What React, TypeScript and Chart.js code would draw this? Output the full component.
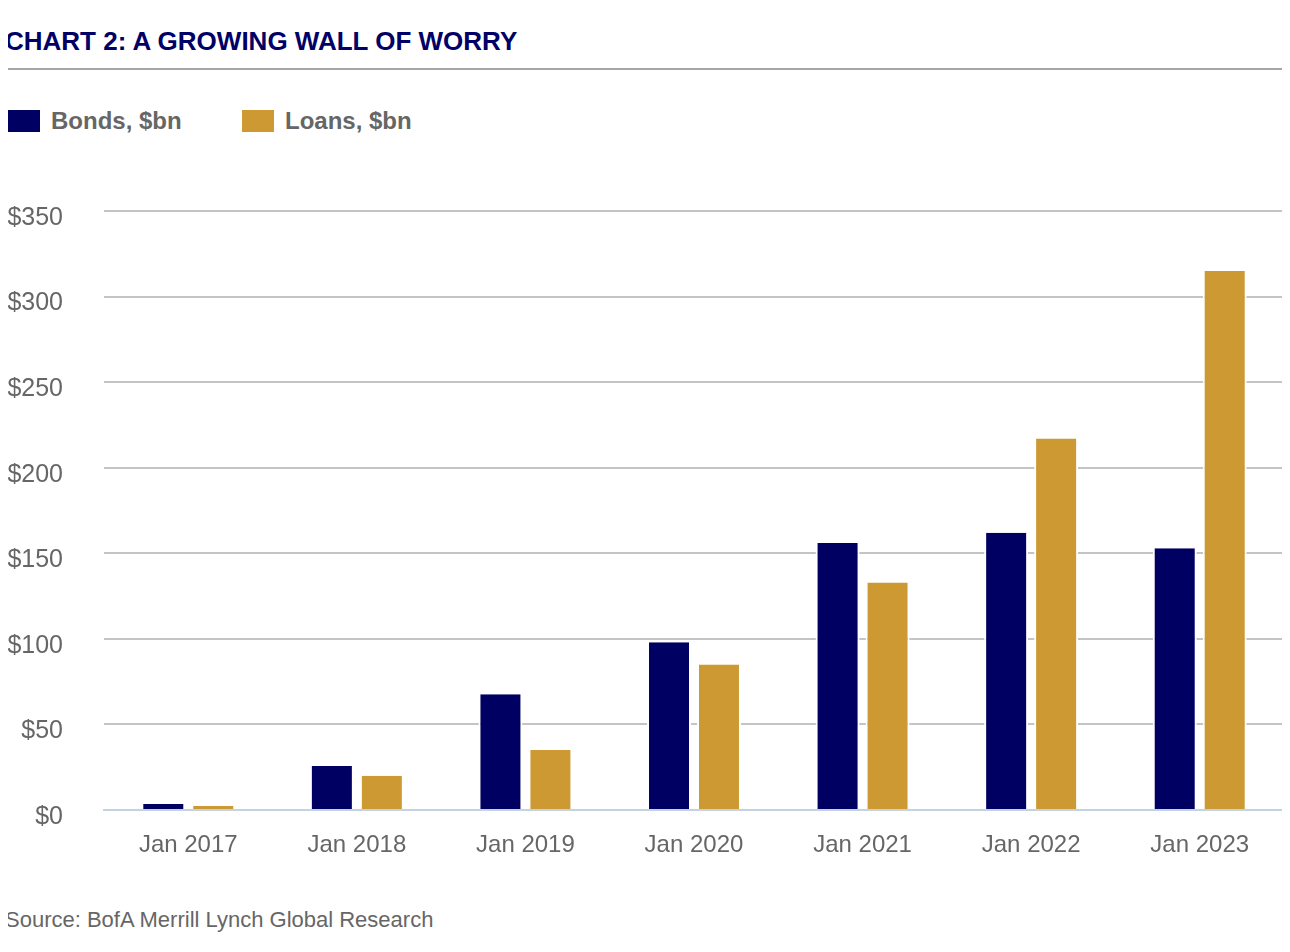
import React, { useEffect, useRef } from "react";
import { Chart, registerables } from "chart.js";

Chart.register(...registerables);

const categories = ["Jan 2017", "Jan 2018", "Jan 2019", "Jan 2020", "Jan 2021", "Jan 2022", "Jan 2023"];
const bonds = [3.5, 25.7, 67.7, 98, 156, 162, 153];
const loans = [2.3, 20, 35, 85, 133, 217, 315];
const yTicks = [0, 50, 100, 150, 200, 250, 300, 350];

const NAVY = "#000062";
const GOLD = "#cc9933";
const GREY_TEXT = "#666666";
const FONT = "'Liberation Sans', Arial, Helvetica, sans-serif";

export default function App() {
  const ref = useRef<HTMLCanvasElement | null>(null);

  useEffect(() => {
    if (!ref.current) return;
    const chart = new Chart(ref.current, {
      type: "bar",
      data: {
        labels: categories,
        datasets: [
          {
            label: "Bonds, $bn",
            data: bonds,
            backgroundColor: NAVY,
            borderColor: "#ffffff",
            borderWidth: { left: 2, right: 2, top: 0, bottom: 0 },
            borderSkipped: false,
            barPercentage: 0.88,
            categoryPercentage: 0.593,
          },
          {
            label: "Loans, $bn",
            data: loans,
            backgroundColor: GOLD,
            borderColor: "#ffffff",
            borderWidth: { left: 2, right: 2, top: 0, bottom: 0 },
            borderSkipped: false,
            barPercentage: 0.88,
            categoryPercentage: 0.593,
          },
        ],
      },
      options: {
        responsive: false,
        animation: false,
        layout: { padding: { top: 30, right: 6, left: 0, bottom: 0 } },
        plugins: {
          legend: { display: false },
          tooltip: { enabled: false },
        },
        scales: {
          x: {
            grid: { display: false, drawTicks: false },
            border: { display: true, color: "#c5d2e1", width: 2 },
            ticks: {
              color: GREY_TEXT,
              font: { family: FONT, size: 24 },
              padding: 21,
              maxRotation: 0,
            },
            afterFit: (scale: any) => {
              scale.height = 90;
            },
          },
          y: {
            min: 0,
            max: 350,
            afterBuildTicks: (scale: any) => {
              scale.ticks = yTicks.map((v) => ({ value: v }));
            },
            grid: {
              drawTicks: false,
              lineWidth: 2,
              color: (ctx: any) => (ctx.tick && ctx.tick.value === 0 ? "rgba(0,0,0,0)" : "#c4c4c4"),
            },
            border: { display: false },
            ticks: {
              color: GREY_TEXT,
              font: { family: FONT, size: 25 },
              padding: 41,
              labelOffset: 7,
              callback: (v: any) => "$" + v,
            },
            afterFit: (scale: any) => {
              scale.width = 104;
            },
          },
        },
      },
    });
    return () => chart.destroy();
  }, []);

  return (
    <div style={{ position: "relative", width: 1290, height: 952, margin: -8, background: "#fff", fontFamily: FONT }}>
      <div
        style={{
          position: "absolute",
          left: 5,
          top: 28,
          fontSize: 26,
          lineHeight: "26px",
          fontWeight: "bold",
          color: "#000066",
          whiteSpace: "nowrap",
        }}
      >
        CHART 2: A GROWING WALL OF WORRY
      </div>
      <div style={{ position: "absolute", left: 4, top: 68, width: 1280, height: 2, background: "#a6a6a6" }} />
      <div style={{ position: "absolute", left: 8, top: 110, width: 32, height: 22, background: NAVY }} />
      <div
        style={{
          position: "absolute",
          left: 51,
          top: 109,
          fontSize: 24,
          lineHeight: "24px",
          fontWeight: "bold",
          color: GREY_TEXT,
          whiteSpace: "nowrap",
        }}
      >
        Bonds, $bn
      </div>
      <div style={{ position: "absolute", left: 242, top: 110, width: 32, height: 22, background: GOLD }} />
      <div
        style={{
          position: "absolute",
          left: 285,
          top: 109,
          fontSize: 24,
          lineHeight: "24px",
          fontWeight: "bold",
          color: GREY_TEXT,
          whiteSpace: "nowrap",
        }}
      >
        Loans, $bn
      </div>
      <canvas
        ref={ref}
        width={1290}
        height={745}
        style={{ position: "absolute", left: 0, top: 155, width: 1290, height: 745 }}
      />
      <div
        style={{
          position: "absolute",
          left: 5,
          top: 909,
          fontSize: 22,
          lineHeight: "22px",
          color: GREY_TEXT,
          whiteSpace: "nowrap",
        }}
      >
        Source: BofA Merrill Lynch Global Research
      </div>
    </div>
  );
}
